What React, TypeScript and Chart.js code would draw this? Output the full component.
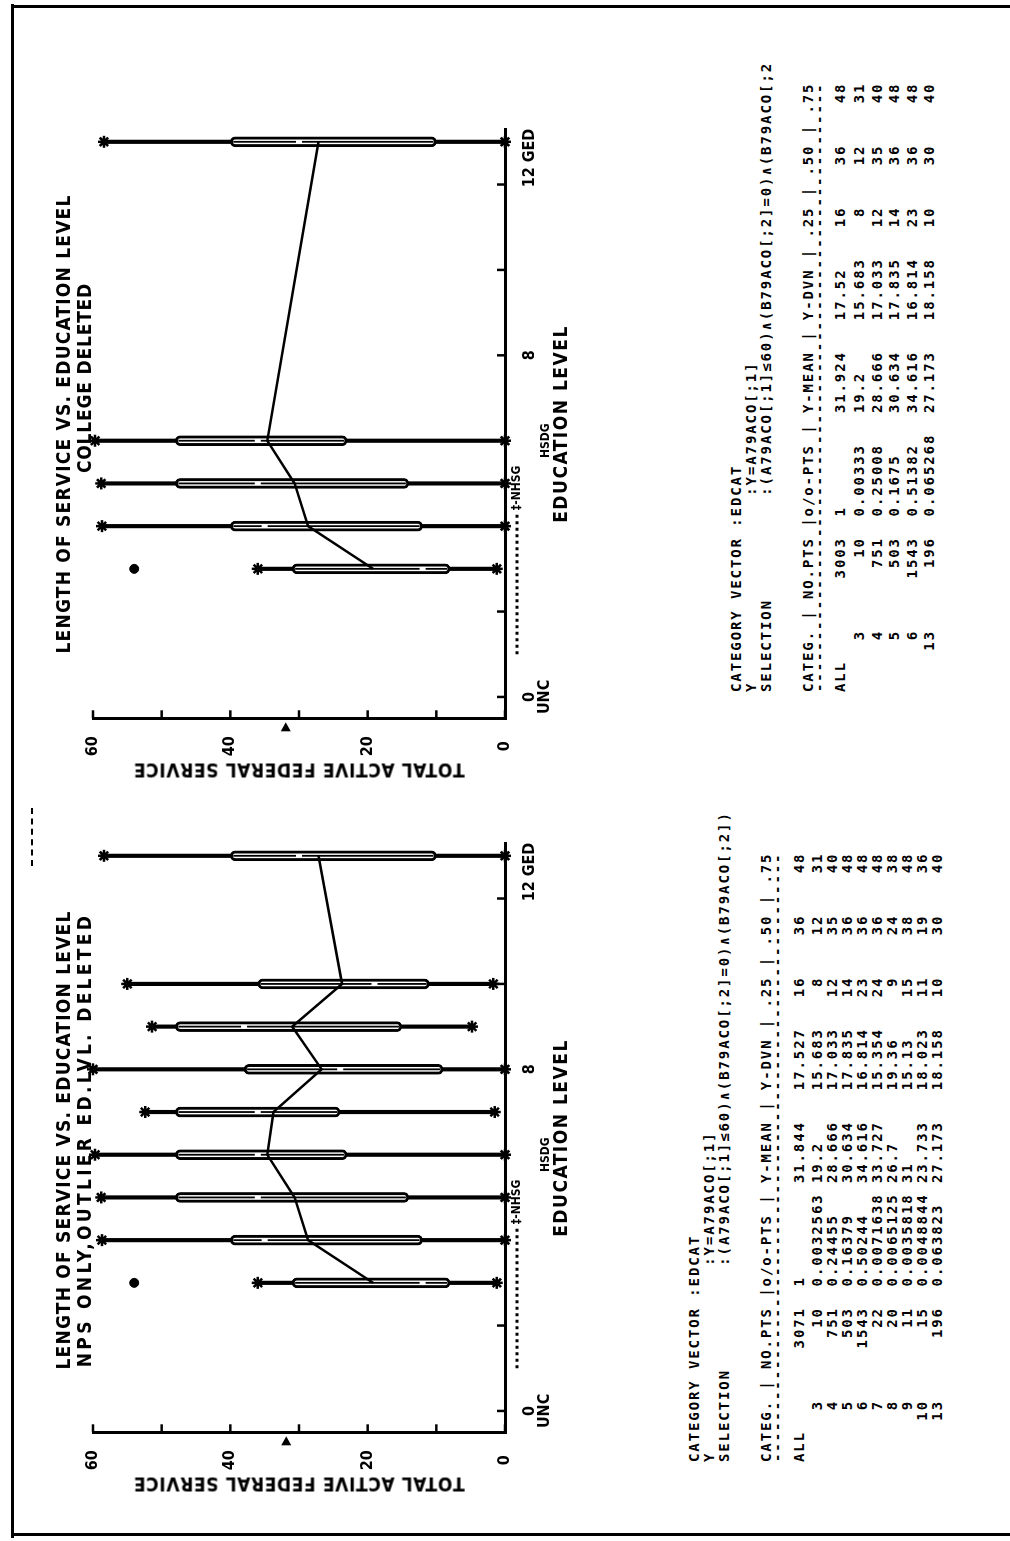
import { useEffect, useRef } from 'react';
import { Chart, registerables } from 'chart.js';

Chart.register(...registerables);

// ---------- axes ----------
const EDU_MARK_VALUES = [0, 2, 4, 6, 8, 10, 12, 13];
const EDU_LABEL_VALUES = [0, 6, 8, 12.62];
const EDU_LABELS: (string | string[])[] = [['0', 'UNC'], ['', 'HSDG'], '8', '12 GED'];
const EDU_RANGE = [-0.5, 13.3];
const NHSG_RANGE = [1, 4.35];
const SERVICE_TICK_VALUES = [0, 10, 20, 30, 40, 50, 60];
const SERVICE_TICK_LABELS = ['0', '', '20', '', '40', '', '60'];

// ---------- NPS only, outlier education level deleted ----------
const NPS_CATEGORIES = [3, 4, 5, 6, 7, 8, 9, 10, 13];
const NPS_COUNTS = [10, 751, 503, 1543, 22, 20, 11, 15, 196];
const NPS_FRACTIONS = [0.0032563, 0.24455, 0.16379, 0.50244, 0.0071638, 0.0065125, 0.0035818, 0.0048844, 0.063823];
const NPS_MEANS = [19.2, 28.666, 30.634, 34.616, 33.727, 26.7, 31, 23.733, 27.173];
const NPS_DEVS = [15.683, 17.033, 17.835, 16.814, 15.354, 19.36, 15.13, 18.023, 18.158];
const NPS_Q25 = [8, 12, 14, 23, 24, 9, 15, 11, 10];
const NPS_Q50 = [12, 35, 36, 36, 36, 24, 38, 19, 30];
const NPS_Q75 = [31, 40, 48, 48, 48, 38, 48, 36, 40];
const NPS_MIN = [1.2, 0, 0, 0, 1.5, 0, 4.8, 1.7, 0];
const NPS_MAX = [36, 58.7, 58.8, 59.7, 52.4, 60, 51.4, 55, 58.4];
const NPS_OUTLIER_CATS = [3];
const NPS_OUTLIER_VALUES = [54];
const NPS_ALL = ['3071', '1', '31.844', '17.527', '16', '36', '48'];

// ---------- college deleted ----------
const COL_CATEGORIES = [3, 4, 5, 6, 13];
const COL_COUNTS = [10, 751, 503, 1543, 196];
const COL_FRACTIONS = [0.00333, 0.25008, 0.1675, 0.51382, 0.065268];
const COL_MEANS = [19.2, 28.666, 30.634, 34.616, 27.173];
const COL_DEVS = [15.683, 17.033, 17.835, 16.814, 18.158];
const COL_Q25 = [8, 12, 14, 23, 10];
const COL_Q50 = [12, 35, 36, 36, 30];
const COL_Q75 = [31, 40, 48, 48, 40];
const COL_MIN = [1.2, 0, 0, 0, 0];
const COL_MAX = [36, 58.7, 58.8, 59.7, 58.4];
const COL_OUTLIER_CATS = [3];
const COL_OUTLIER_VALUES = [54];
const COL_ALL = ['3003', '1', '31.924', '17.52', '16', '36', '48'];

const FONT_PLOT = "'DejaVu Sans Condensed', 'DejaVu Sans', sans-serif";
const FONT_TABLE = "'DejaVu Sans Mono', 'Liberation Mono', monospace";

type Panel = {
  cats: number[];
  mins: number[];
  q25: number[];
  q50: number[];
  q75: number[];
  maxs: number[];
  means: number[];
  outCats: number[];
  outVals: number[];
  allMean: number;
};

const CANVAS_W = 740;
const CANVAS_H = 540;

function boxExtras(d: Panel) {
  return {
    id: 'boxExtras',
    afterDatasetsDraw(chart: any) {
      const { ctx, chartArea: area } = chart;
      const x = chart.scales.x;
      const y = chart.scales.y;
      const seg = (x1: number, y1: number, x2: number, y2: number) => {
        ctx.beginPath();
        ctx.moveTo(x1, y1);
        ctx.lineTo(x2, y2);
        ctx.stroke();
      };
      ctx.save();
      ctx.strokeStyle = '#000';
      ctx.fillStyle = '#000';
      // centre stroke of every box, broken at the median
      ctx.lineWidth = 1.8;
      d.cats.forEach((c, i) => {
        const px = x.getPixelForValue(c);
        const lo = y.getPixelForValue(d.q25[i]);
        const md = y.getPixelForValue(d.q50[i]);
        const hi = y.getPixelForValue(d.q75[i]);
        seg(px, lo - 3, px, md + 3);
        seg(px, md - 3, px, hi + 3);
      });
      // tick marks pointing into the plot
      ctx.lineWidth = 2.5;
      for (const v of SERVICE_TICK_VALUES) {
        const py = y.getPixelForValue(v);
        seg(area.left, py, area.left + 8, py);
      }
      for (const v of EDU_MARK_VALUES) {
        const px = x.getPixelForValue(v);
        seg(px, area.bottom, px, area.bottom - 8);
      }
      // overall mean marker on the service axis
      const pm = y.getPixelForValue(d.allMean);
      ctx.beginPath();
      ctx.moveTo(area.left - 4, pm);
      ctx.lineTo(area.left - 13, pm - 5);
      ctx.lineTo(area.left - 13, pm + 5);
      ctx.closePath();
      ctx.fill();
      // non high-school-graduate bracket
      const by = area.bottom + 12;
      ctx.setLineDash([3, 3.5]);
      ctx.lineWidth = 3;
      seg(x.getPixelForValue(NHSG_RANGE[0]), by, x.getPixelForValue(NHSG_RANGE[1]), by);
      ctx.setLineDash([]);
      ctx.font = `bold 12px ${FONT_PLOT}`;
      ctx.textAlign = 'left';
      ctx.textBaseline = 'middle';
      ctx.fillText('\u2021-NHSG', x.getPixelForValue(NHSG_RANGE[1]) + 1, by);
      ctx.restore();
    },
  };
}

function BoxPanel({ d, left, top }: { d: Panel; left: number; top: number }) {
  const ref = useRef<HTMLCanvasElement>(null);
  useEffect(() => {
    const ends = [
      ...d.cats.map((c, i) => ({ x: c, y: d.maxs[i] })),
      ...d.cats.map((c, i) => ({ x: c, y: d.mins[i] })),
    ];
    const chart = new Chart(ref.current as HTMLCanvasElement, {
      type: 'bar',
      data: {
        datasets: [
          {
            type: 'line',
            label: 'mean',
            data: d.cats.map((c, i) => ({ x: c, y: d.means[i] })),
            borderColor: '#000',
            borderWidth: 2.5,
            pointRadius: 0,
            tension: 0,
            order: 0,
            clip: false,
          },
          {
            type: 'scatter',
            label: 'extremes',
            data: ends,
            pointStyle: 'star',
            pointRadius: 6,
            pointBorderWidth: 2.5,
            pointBorderColor: '#000',
            borderColor: '#000',
            order: 1,
            clip: false,
          },
          {
            type: 'scatter',
            label: 'outlier',
            data: d.outCats.map((c, i) => ({ x: c, y: d.outVals[i] })),
            pointStyle: 'circle',
            pointRadius: 4.5,
            pointBackgroundColor: '#000',
            pointBorderColor: '#000',
            order: 1,
            clip: false,
          },
          {
            type: 'bar',
            label: 'quartiles',
            data: d.cats.map((c, i) => ({ x: c, y: [d.q25[i], d.q75[i]] })),
            backgroundColor: '#fff',
            borderColor: '#000',
            borderWidth: 3,
            borderRadius: 5,
            borderSkipped: false,
            barThickness: 10,
            grouped: false,
            order: 2,
            clip: false,
          },
          {
            type: 'bar',
            label: 'range',
            data: d.cats.map((c, i) => ({ x: c, y: [d.mins[i], d.maxs[i]] })),
            backgroundColor: '#000',
            borderWidth: 0,
            barThickness: 3.5,
            grouped: false,
            order: 3,
            clip: false,
          },
        ],
      } as any,
      options: {
        animation: false,
        responsive: false,
        events: [],
        layout: { padding: { left: 0, top: 53, right: 42, bottom: 0 } },
        plugins: { legend: { display: false }, tooltip: { enabled: false }, title: { display: false } },
        scales: {
          x: {
            type: 'linear',
            min: EDU_RANGE[0],
            max: EDU_RANGE[1],
            offset: false,
            afterBuildTicks: (s: any) => {
              s.ticks = EDU_LABEL_VALUES.map((value) => ({ value }));
            },
            afterFit: (s: any) => {
              s.height = 75;
            },
            grid: { display: false },
            border: { display: true, color: '#000', width: 3 },
            ticks: {
              autoSkip: false,
              maxRotation: 0,
              minRotation: 0,
              padding: 9,
              color: '#000',
              font: (c: any) =>
                c.tick && c.tick.value === 6
                  ? { family: FONT_PLOT, size: 12, weight: 'bold', lineHeight: 1.3 }
                  : { family: FONT_PLOT, size: 16, weight: 'bold', lineHeight: 0.95 },
              callback: (_v: any, i: number) => EDU_LABELS[i],
            },
          },
          y: {
            type: 'linear',
            min: 0,
            max: 60,
            afterBuildTicks: (s: any) => {
              s.ticks = SERVICE_TICK_VALUES.map((value) => ({ value }));
            },
            afterFit: (s: any) => {
              s.width = 108.7;
            },
            grid: { display: false },
            border: { display: true, color: '#000', width: 3 },
            ticks: {
              padding: 10,
              crossAlign: 'center',
              color: '#000',
              font: { family: FONT_PLOT, size: 16, weight: 'bold' },
              callback: (_v: any, i: number) => SERVICE_TICK_LABELS[i],
            },
          },
        },
      } as any,
      plugins: [boxExtras(d)],
    });
    return () => chart.destroy();
  }, [d]);
  return (
    <canvas
      ref={ref}
      width={CANVAS_W}
      height={CANVAS_H}
      style={{ position: 'absolute', left, top, width: CANVAS_W, height: CANVAS_H }}
    />
  );
}

function Label({
  text,
  u,
  v,
  size = 20,
  spacing = 0,
  rotate = 0,
}: {
  text: string;
  u: number;
  v: number;
  size?: number;
  spacing?: number;
  rotate?: number;
}) {
  return (
    <div
      style={{
        position: 'absolute',
        left: u,
        top: v,
        transform: `translate(-50%, -50%) rotate(${rotate}deg)`,
        whiteSpace: 'nowrap',
        fontFamily: FONT_PLOT,
        fontWeight: 'bold',
        fontSize: size,
        letterSpacing: spacing,
        lineHeight: 1,
        color: '#000',
      }}
    >
      {text}
    </div>
  );
}

function placeCols(parts: [string, number, 'l' | 'r'][]) {
  const chars: string[] = [];
  for (const [text, col, align] of parts) {
    const start = align === 'l' ? col : col - text.length + 1;
    for (let i = 0; i < text.length; i++) chars[start + i] = text[i];
  }
  return Array.from(chars, (c) => c ?? ' ').join('');
}

function statRow(cat: string, cells: string[]) {
  return placeCols([
    [cat, cat === 'ALL' ? 0 : 5, cat === 'ALL' ? 'l' : 'r'],
    [cells[0], 14, 'r'],
    [cells[1], 17, 'l'],
    [cells[2], 27, 'l'],
    [cells[3], 36, 'l'],
    [cells[4], 46, 'r'],
    [cells[5], 52, 'r'],
    [cells[6], 58, 'r'],
  ]);
}

const HEADER = 'CATEG. | NO.PTS |o/o-PTS | Y-MEAN | Y-DVN | .25 | .50 | .75';

type TableProps = {
  u: number;
  v: number;
  header: number;
  allRow: number;
  firstRow: number;
  pitch: number;
  selection: string;
  all: string[];
  cats: number[];
  counts: number[];
  fractions: number[];
  means: number[];
  devs: number[];
  q25: number[];
  q50: number[];
  q75: number[];
};

function StatsTable(p: TableProps) {
  const lines: [string, number][] = [
    ['CATEGORY VECTOR :EDCAT', p.v],
    ['Y'.padEnd(19) + ':Y=A79ACO[;1]', p.v + 15],
    ['SELECTION'.padEnd(19) + p.selection, p.v + 30],
    [HEADER, p.header],
    ['-'.repeat(HEADER.length), p.header + 11],
    [statRow('ALL', p.all), p.allRow],
    ...p.cats.map(
      (c, i) =>
        [
          statRow(String(c), [
            String(p.counts[i]),
            String(p.fractions[i]),
            String(p.means[i]),
            String(p.devs[i]),
            String(p.q25[i]),
            String(p.q50[i]),
            String(p.q75[i]),
          ]),
          p.firstRow + i * p.pitch,
        ] as [string, number]
    ),
  ];
  return (
    <>
      {lines.map(([t, lv], i) => (
        <div
          key={i}
          style={{
            position: 'absolute',
            left: p.u,
            top: lv - 8,
            height: 16,
            lineHeight: '16px',
            whiteSpace: 'pre',
            fontFamily: FONT_TABLE,
            fontWeight: 'bold',
            fontSize: 14,
            letterSpacing: 1.9,
            color: '#000',
          }}
        >
          {t}
        </div>
      ))}
    </>
  );
}

const NPS_PANEL: Panel = {
  cats: NPS_CATEGORIES,
  mins: NPS_MIN,
  q25: NPS_Q25,
  q50: NPS_Q50,
  q75: NPS_Q75,
  maxs: NPS_MAX,
  means: NPS_MEANS,
  outCats: NPS_OUTLIER_CATS,
  outVals: NPS_OUTLIER_VALUES,
  allMean: Number(NPS_ALL[2]),
};

const COL_PANEL: Panel = {
  cats: COL_CATEGORIES,
  mins: COL_MIN,
  q25: COL_Q25,
  q50: COL_Q50,
  q75: COL_Q75,
  maxs: COL_MAX,
  means: COL_MEANS,
  outCats: COL_OUTLIER_CATS,
  outVals: COL_OUTLIER_VALUES,
  allMean: Number(COL_ALL[2]),
};

export default function App() {
  const leftAxis = 108.7;
  const rightAxis = 822.6;
  return (
    <div
      style={{
        position: 'absolute',
        left: 0,
        top: 0,
        width: 1010,
        height: 1541,
        overflow: 'hidden',
        background: '#fff',
      }}
    >
      {/* landscape sheet, turned a quarter to the left */}
      <div
        style={{
          position: 'absolute',
          left: 0,
          top: 0,
          width: 1541,
          height: 1010,
          transformOrigin: '0 0',
          transform: 'translate(0px, 1541px) rotate(-90deg)',
        }}
      >
        <BoxPanel d={NPS_PANEL} left={leftAxis - 108.7} top={40} />
        <BoxPanel d={COL_PANEL} left={rightAxis - 108.7} top={40} />

        <Label text="LENGTH OF SERVICE VS. EDUCATION LEVEL" u={401} v={63} size={19} spacing={1.2} />
        <Label text="NPS ONLY,OUTLIER ED.LVL. DELETED" u={401} v={84} size={19} spacing={3.3} />
        <Label text="LENGTH OF SERVICE VS. EDUCATION LEVEL" u={1117} v={63} size={19} spacing={1.2} />
        <Label text="COLLEGE DELETED" u={1163} v={84} size={19} spacing={0.8} />

        <Label text="TOTAL ACTIVE FEDERAL SERVICE" u={leftAxis - 52} v={299} size={19} spacing={0.6} rotate={-90} />
        <Label text="TOTAL ACTIVE FEDERAL SERVICE" u={rightAxis - 52} v={299} size={19} spacing={0.6} rotate={-90} />
        <Label text="EDUCATION LEVEL" u={403} v={560} size={19} spacing={1.5} />
        <Label text="EDUCATION LEVEL" u={1117} v={560} size={19} spacing={1.5} />

        <StatsTable
          u={79}
          v={694}
          header={766}
          allRow={799}
          firstRow={817}
          pitch={15}
          selection=":(A79ACO[;1]≤60)∧(B79ACO[;2]=0)∧(B79ACO[;2])"
          all={NPS_ALL}
          cats={NPS_CATEGORIES}
          counts={NPS_COUNTS}
          fractions={NPS_FRACTIONS}
          means={NPS_MEANS}
          devs={NPS_DEVS}
          q25={NPS_Q25}
          q50={NPS_Q50}
          q75={NPS_Q75}
        />
        <StatsTable
          u={849}
          v={736}
          header={808}
          allRow={840}
          firstRow={859}
          pitch={17.5}
          selection=":(A79ACO[;1]≤60)∧(B79ACO[;2]=0)∧(B79ACO[;2"
          all={COL_ALL}
          cats={COL_CATEGORIES}
          counts={COL_COUNTS}
          fractions={COL_FRACTIONS}
          means={COL_MEANS}
          devs={COL_DEVS}
          q25={COL_Q25}
          q50={COL_Q50}
          q75={COL_Q75}
        />
      </div>

      {/* page frame */}
      <div style={{ position: 'absolute', left: 11, top: 4, width: 3, height: 1534, background: '#000' }} />
      <div style={{ position: 'absolute', left: 11, top: 5, width: 999, height: 3, background: '#000' }} />
      <div style={{ position: 'absolute', left: 11, top: 1533, width: 999, height: 3, background: '#000' }} />
      <div
        style={{
          position: 'absolute',
          left: 31,
          top: 808,
          width: 0,
          height: 58,
          borderLeft: '2px dashed #000',
        }}
      />
    </div>
  );
}
